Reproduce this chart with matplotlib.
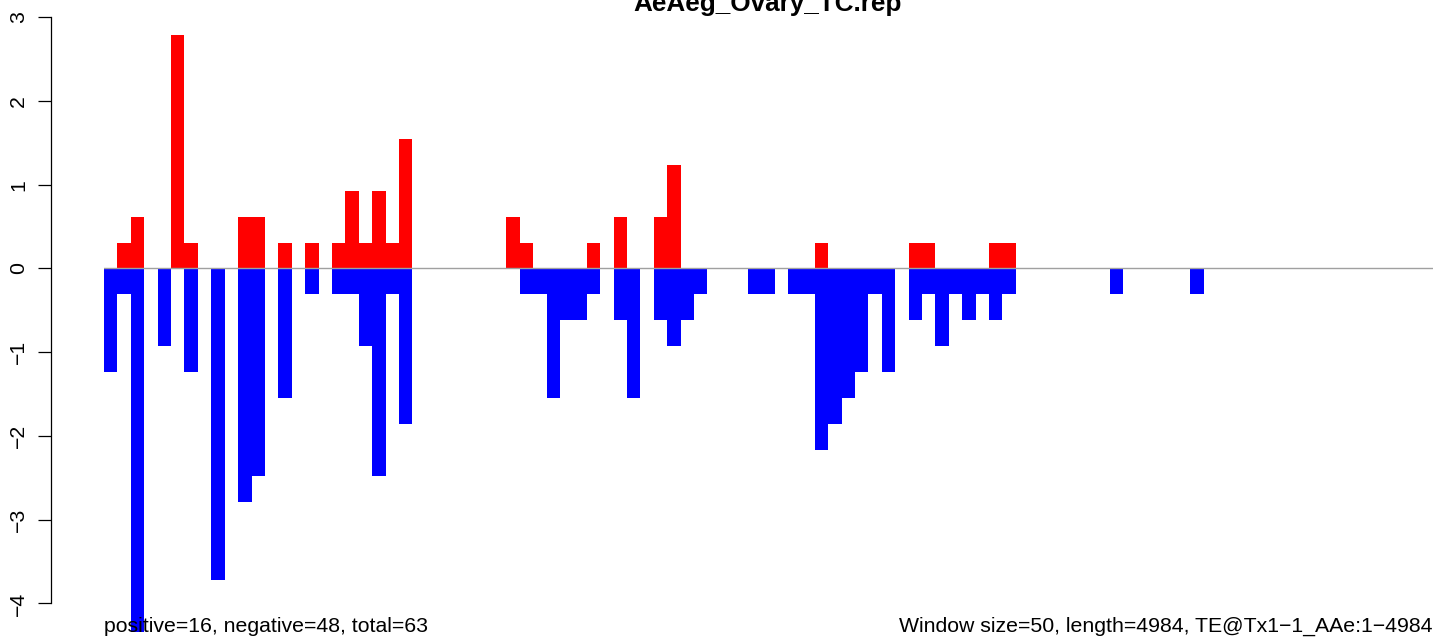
import numpy as np
import matplotlib
matplotlib.use('Agg')
import matplotlib.pyplot as plt

plt.rcParams['font.family'] = ['Liberation Sans', 'DejaVu Sans']

title = 'AeAeg_Ovary_TC.rep'
left_note = 'positive=16, negative=48, total=63'
right_note = 'Window size=50, length=4984, TE@Tx1\u22121_AAe:1\u22124984'

# 50bp windows (index), sense reads drawn up in red
pos_windows = [1, 2, 5, 6, 10, 11, 13, 15, 17, 18, 19, 20, 21, 22,
               30, 31, 36, 38, 41, 42, 53, 60, 61, 66, 67]
pos_values = [0.31, 0.62, 2.79, 0.31, 0.62, 0.62, 0.31, 0.31, 0.31, 0.93, 0.31, 0.93, 0.31, 1.55,
              0.62, 0.31, 0.31, 0.62, 0.62, 1.24, 0.31, 0.31, 0.31, 0.31, 0.31]

# antisense reads drawn down in blue
neg_windows = [0, 1, 2, 4, 6, 8, 10, 11, 13, 15, 17, 18, 19, 20, 21, 22,
               31, 32, 33, 34, 35, 36, 38, 39, 41, 42, 43, 44, 48, 49,
               51, 52, 53, 54, 55, 56, 57, 58, 60, 61, 62, 63, 64, 65, 66, 67, 75, 81]
neg_values = [1.24, 0.31, 4.34, 0.93, 1.24, 3.72, 2.79, 2.48, 1.55, 0.31, 0.31, 0.31, 0.93, 2.48, 0.31, 1.86,
              0.31, 0.31, 1.55, 0.62, 0.62, 0.31, 0.62, 1.55, 0.62, 0.93, 0.62, 0.31, 0.31, 0.31,
              0.31, 0.31, 2.17, 1.86, 1.55, 1.24, 0.31, 1.24, 0.62, 0.31, 0.93, 0.31, 0.62, 0.31, 0.62, 0.31, 0.31, 0.31]

n_windows = 99.08
W, H = 1444, 639

fig = plt.figure(figsize=(W / 100, H / 100), dpi=100)
ax = fig.add_axes([104 / W, 0, 1328.7 / W, 1])

ax.bar(pos_windows, pos_values, width=1, align='edge', color='#FF0000', linewidth=0)
ax.bar(neg_windows, -np.array(neg_values), width=1, align='edge', color='#0000FF', linewidth=0)
ax.axhline(0, color='#A0A0A0', linewidth=1.0, zorder=5)

ax.set_xlim(0, n_windows)
ax.set_ylim(-4.424, 3.206)

for s in ['top', 'right', 'bottom']:
    ax.spines[s].set_visible(False)
ax.spines['left'].set_position(('outward', 38.4))
ax.spines['left'].set_bounds(-4, 3)
ax.spines['left'].set_linewidth(0.9)
ax.set_xticks([])
ax.set_yticks([-4, -3, -2, -1, 0, 1, 2, 3])
ax.set_yticklabels(['\u22124', '\u22123', '\u22122', '\u22121', '0', '1', '2', '3'],
                   rotation=90, fontsize=15.3)
ax.tick_params(axis='y', length=9.65, width=0.9, pad=6.5)
for lab in ax.get_yticklabels():
    lab.set_verticalalignment('center')

fig.text(767.8 / W, 1 - 10.7 / H, title, ha='center', va='baseline',
         fontsize=18.8, fontweight='bold')
ax.text(0, 1 - 631.5 / H, left_note, transform=ax.transAxes, ha='left', va='baseline', fontsize=15.3)
ax.text(1, 1 - 631.5 / H, right_note, transform=ax.transAxes, ha='right', va='baseline', fontsize=15.3)

fig.savefig('out.png', dpi=100)
